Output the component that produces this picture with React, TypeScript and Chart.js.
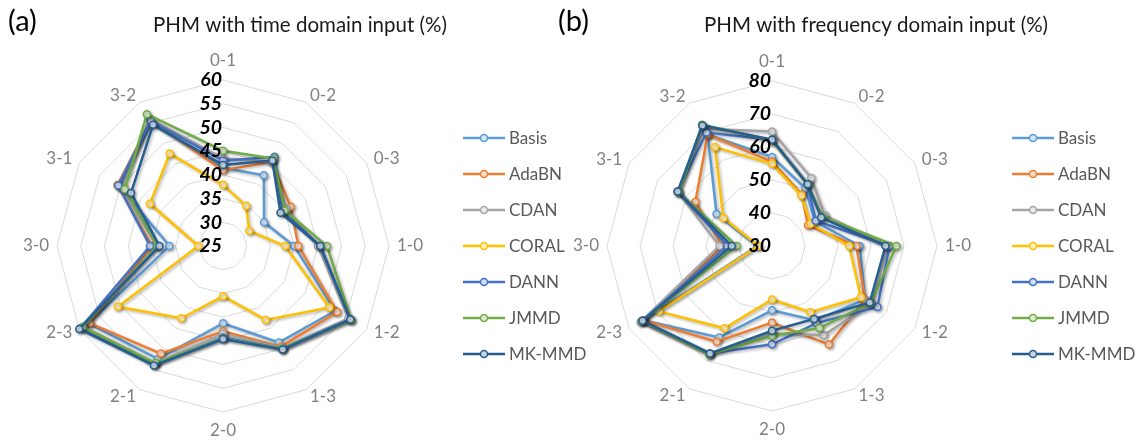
import React, { useEffect, useRef } from 'react';
import { Chart, registerables } from 'chart.js';
Chart.register(...registerables);

const categories = ['0-1', '0-2', '0-3', '1-0', '1-2', '1-3', '2-0', '2-1', '2-3', '3-0', '3-1', '3-2'];
const seriesNames = ['Basis', 'AdaBN', 'CDAN', 'CORAL', 'DANN', 'JMMD', 'MK-MMD'];
const seriesColors = ['#5B9BD5', '#ED7D31', '#A5A5A5', '#FFC000', '#4472C4', '#70AD47', '#255E91'];

// (a) time domain input
const timeBasis = [41.5, 42.2, 35.0, 40.0, 52.3, 48.5, 41.3, 52.5, 57.7, 36.3, 50.2, 55.0];
const timeAdaBN = [41.0, 45.5, 41.5, 40.9, 52.8, 49.5, 43.0, 51.2, 57.5, 40.0, 50.7, 55.5];
const timeCDAN = [43.5, 45.5, 40.5, 45.0, 55.5, 49.8, 43.5, 53.5, 59.0, 39.0, 49.5, 56.0];
const timeCORAL = [37.9, 34.8, 31.4, 38.1, 50.9, 43.0, 35.6, 42.6, 50.6, 30.2, 42.8, 47.5];
const timeDANN = [43.0, 46.7, 39.5, 45.5, 56.0, 50.0, 44.3, 53.8, 59.8, 40.4, 50.5, 55.5];
const timeJMMD = [45.1, 46.3, 40.0, 46.9, 56.3, 50.0, 44.5, 53.5, 59.2, 38.8, 48.9, 57.1];
const timeMKMMD = [42.1, 45.8, 39.0, 45.5, 56.0, 50.2, 44.6, 54.1, 60.0, 38.4, 47.4, 54.5];

// (b) frequency domain input
const freqBasis = [57.0, 50.2, 45.0, 56.6, 62.5, 56.0, 49.5, 62.0, 75.0, 34.5, 49.4, 69.0];
const freqAdaBN = [55.6, 48.0, 42.6, 55.6, 62.5, 64.5, 53.2, 63.5, 75.0, 45.0, 56.8, 69.0];
const freqCDAN = [64.7, 53.8, 48.5, 65.0, 65.0, 61.2, 56.5, 68.0, 76.0, 45.9, 63.0, 71.0];
const freqCORAL = [54.9, 47.7, 43.5, 53.4, 61.1, 53.2, 46.2, 58.8, 69.6, 34.1, 47.0, 64.6];
const freqDANN = [62.2, 51.6, 45.3, 65.6, 66.9, 57.0, 59.8, 67.6, 75.5, 43.5, 63.0, 69.7];
const freqJMMD = [62.0, 51.5, 47.7, 67.7, 64.5, 58.7, 57.2, 68.0, 75.5, 40.7, 62.5, 72.4];
const freqMKMMD = [62.2, 51.6, 47.2, 64.4, 64.2, 55.5, 55.7, 67.6, 75.3, 42.2, 63.0, 72.2];

const timeTicks = [25, 30, 35, 40, 45, 50, 55, 60];
const freqTicks = [30, 40, 50, 60, 70, 80];

const timeSeries = [timeBasis, timeAdaBN, timeCDAN, timeCORAL, timeDANN, timeJMMD, timeMKMMD];
const freqSeries = [freqBasis, freqAdaBN, freqCDAN, freqCORAL, freqDANN, freqJMMD, freqMKMMD];

const FONT = "Lato, 'Open Sans', 'DejaVu Sans', sans-serif";

function tint(hex: string, t: number) {
  const n = parseInt(hex.slice(1), 16);
  const r = (n >> 16) & 255, g = (n >> 8) & 255, b = n & 255;
  const m = (c: number) => Math.round(c + (255 - c) * t);
  return `rgb(${m(r)},${m(g)},${m(b)})`;
}

type PanelProps = {
  left: number;
  width: number;
  padding: { left: number; top: number; right: number; bottom: number };
  series: number[][];
  ticks: number[];
  step: number;
  title: string;
  titleX: number;
  panelLabel: string;
  panelX: number;
  legendX: number;
};

function RadarPanel(p: PanelProps) {
  const ref = useRef<HTMLCanvasElement>(null);
  useEffect(() => {
    const canvas = ref.current!;
    const decor = {
      id: 'decor',
      beforeDatasetsDraw(chart: any) {
        const ctx = chart.ctx;
        ctx.save();
        ctx.shadowColor = 'rgba(0,0,0,0.3)';
        ctx.shadowBlur = 3;
        ctx.shadowOffsetX = 1.5;
        ctx.shadowOffsetY = 1.5;
      },
      afterDatasetsDraw(chart: any) {
        chart.ctx.restore();
      },
      afterDraw(chart: any) {
        const ctx = chart.ctx as CanvasRenderingContext2D;
        const scale = chart.scales.r;
        ctx.save();
        // panel label
        ctx.fillStyle = '#000';
        ctx.font = `29px ${FONT}`;
        ctx.textAlign = 'left';
        ctx.textBaseline = 'middle';
        ctx.fillText(p.panelLabel, p.panelX, 22);
        // title
        ctx.font = `20.5px ${FONT}`;
        ctx.textAlign = 'center';
        ctx.fillStyle = '#1a1a1a';
        ctx.fillText(p.title, p.titleX, 25);
        // point labels
        ctx.font = `17px ${FONT}`;
        ctx.fillStyle = '#808080';
        const n = categories.length;
        for (let i = 0; i < n; i++) {
          const frac = i / n;
          const isTop = i === 0;
          const isBottom = i === n / 2;
          const R = scale.drawingArea + (isTop || isBottom ? 19 : 8);
          const pos = scale.getPointPosition(i, R);
          ctx.textBaseline = 'middle';
          if (isTop || isBottom) ctx.textAlign = 'center';
          else ctx.textAlign = frac < 0.5 ? 'left' : 'right';
          ctx.fillText(categories[i], pos.x, pos.y);
        }
        // tick labels
        ctx.font = `italic bold 19.5px ${FONT}`;
        ctx.fillStyle = '#000';
        ctx.textAlign = 'right';
        ctx.textBaseline = 'middle';
        for (const v of p.ticks) {
          const d = scale.getDistanceFromCenterForValue(v);
          ctx.fillText(String(v), scale.xCenter - 1, scale.yCenter - d);
        }
        // legend
        ctx.font = `17px ${FONT}`;
        for (let i = 0; i < seriesNames.length; i++) {
          const y = 138 + 36 * i;
          const x0 = p.legendX;
          ctx.strokeStyle = seriesColors[i];
          ctx.lineWidth = 2.5;
          ctx.beginPath();
          ctx.moveTo(x0, y);
          ctx.lineTo(x0 + 42, y);
          ctx.stroke();
          ctx.beginPath();
          ctx.arc(x0 + 21, y, 3.5, 0, Math.PI * 2);
          ctx.fillStyle = tint(seriesColors[i], 0.75);
          ctx.fill();
          ctx.lineWidth = 1.5;
          ctx.stroke();
          ctx.fillStyle = '#595959';
          ctx.textAlign = 'left';
          ctx.textBaseline = 'middle';
          ctx.fillText(seriesNames[i], x0 + 46, y + 1);
        }
        ctx.restore();
      },
    };
    const chart = new Chart(canvas, {
      type: 'radar',
      data: {
        labels: categories,
        datasets: p.series.map((vals, i) => ({
          label: seriesNames[i],
          data: vals,
          borderColor: seriesColors[i],
          backgroundColor: seriesColors[i],
          borderWidth: 2.5,
          fill: false,
          pointRadius: 3.5,
          pointBorderWidth: 1.5,
          pointBackgroundColor: tint(seriesColors[i], 0.75),
          pointBorderColor: seriesColors[i],
          order: seriesNames.length - i,
        })),
      },
      options: {
        responsive: false,
        animation: false,
        layout: { padding: p.padding },
        plugins: { legend: { display: false }, title: { display: false }, tooltip: { enabled: false } },
        scales: {
          r: {
            min: p.ticks[0],
            max: p.ticks[p.ticks.length - 1],
            ticks: { display: false, stepSize: p.step },
            pointLabels: { display: false },
            angleLines: { display: false },
            grid: { color: '#d9d9d9', lineWidth: 1 },
          },
        },
      },
      plugins: [decor],
    } as any);
    return () => chart.destroy();
  }, []);
  return (
    <canvas
      ref={ref}
      width={p.width}
      height={446}
      style={{ position: 'absolute', left: p.left, top: 0, width: p.width, height: 446 }}
    />
  );
}

export default function App() {
  return (
    <div style={{ position: 'absolute', left: 0, top: 0, width: 1142, height: 446, background: '#fff', overflow: 'hidden' }}>
      <RadarPanel
        left={0}
        width={610}
        padding={{ left: 57, top: 80, right: 221, bottom: 34 }}
        series={timeSeries}
        ticks={timeTicks}
        step={5}
        title="PHM with time domain input (%)"
        titleX={300}
        panelLabel="(a)"
        panelX={8}
        legendX={463}
      />
      <RadarPanel
        left={540}
        width={602}
        padding={{ left: 67, top: 81, right: 205, bottom: 35 }}
        series={freqSeries}
        ticks={freqTicks}
        step={10}
        title="PHM with frequency domain input (%)"
        titleX={336}
        panelLabel="(b)"
        panelX={18}
        legendX={472}
      />
    </div>
  );
}
